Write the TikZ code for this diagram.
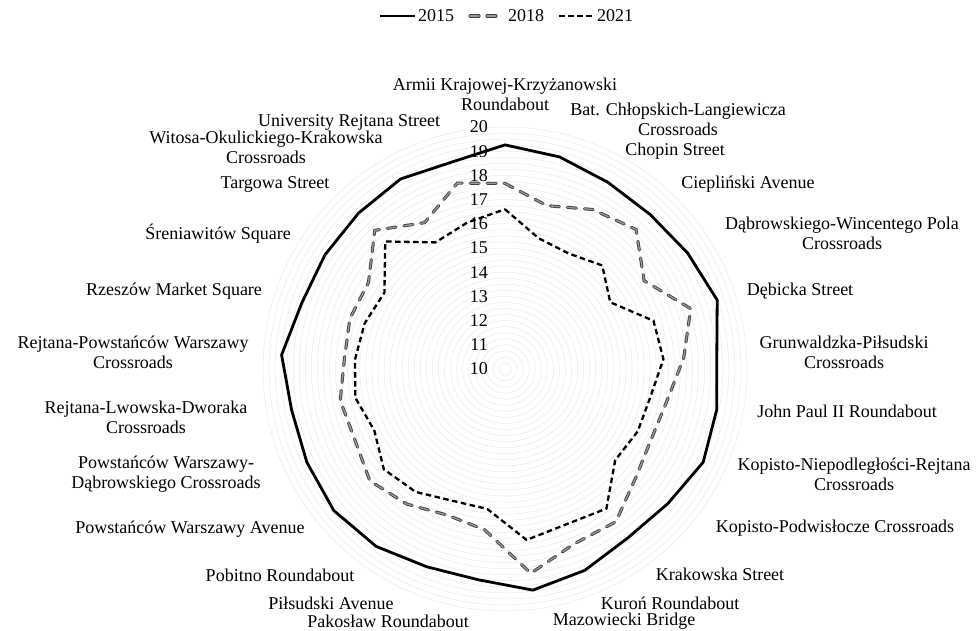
\documentclass[tikz,border=0pt]{standalone}
\usepackage{fontspec}
\setmainfont{Liberation Serif}
\usetikzlibrary{positioning}

\begin{document}
\begin{tikzpicture}[x=1pt, y=-1pt,
  lbl/.style = {align=center, font=\fontsize{18}{20}\selectfont, inner sep=0pt},
  num/.style = {anchor=east, font=\fontsize{18}{20}\selectfont, inner sep=0pt},
  ring/.style = {draw=black!9, line width=0.5pt},
  yrA/.style = {line width=2.8pt},
  yrB/.style = {draw=black!75, double=black!40, double distance=1.3pt, line width=0.9pt, dash pattern=on 9pt off 8pt, line cap=round},
  yrC/.style = {line width=2.3pt, dash pattern=on 5.5pt off 3.5pt}]
	\useasboundingbox (0,0) rectangle (977,631);

	% grid and scale
	\begin{scope}[shift={(505,369)}]
		\foreach \k in {1,...,40}
			\draw[ring] (0,0) circle ({\k*6.05});
		\foreach \n in {10,...,20}
			\node[num] (n\n) at (-17,{-(\n-10)*24.2}) {\n};

		% 2015
		\foreach \v [count=\i from 0] in {19.26,19.05,18.81,18.76,18.94,19.22,18.77,18.91,19.05,18.73,18.63,18.95,19.21,18.78,18.79,19.06,19.18,19.05,18.98,19.25,18.83,18.81,18.84,18.96,18.83}
			\coordinate (a\i) at ({-90+14.4*\i}:{(\v-10)*24.2});
		% 2018
		\foreach \v [count=\i from 0] in {17.67,16.97,17.52,17.91,16.81,18.07,17.40,16.83,16.70,17.02,17.80,17.77,18.51,16.70,16.49,16.90,17.25,16.86,16.93,16.65,16.74,16.68,17.86,16.90,17.93}
			\coordinate (b\i) at ({-90+14.4*\i}:{(\v-10)*24.2});
		% 2021
		\foreach \v [count=\i from 0] in {16.60,15.58,15.45,15.87,15.15,16.45,16.56,16.12,16.06,15.91,17.13,16.90,17.12,15.83,15.86,16.28,16.50,15.97,16.30,16.21,16.10,15.90,17.23,15.97,16.25}
			\coordinate (c\i) at ({-90+14.4*\i}:{(\v-10)*24.2});

		\draw[yrA] (a0) \foreach \i in {1,...,24} {-- (a\i)} -- cycle;
		\draw[yrB] (b0) \foreach \i in {1,...,24} {-- (b\i)} -- cycle;
		\draw[yrC] (c0) \foreach \i in {1,...,24} {-- (c\i)} -- cycle;
	\end{scope}

	% category labels
	\node[lbl] (armii) at (505,94) {Armii Krajowej-Krzyżanowski\\Roundabout};
	\node[lbl] (bat) at (678,119) {Bat. Chłopskich-Langiewicza\\Crossroads};
	\node[lbl] (chopin) at (675,151) {Chopin Street};
	\node[lbl] (cieplinski) at (748,184) {Ciepliński Avenue};
	\node[lbl] (dabrowskiego) at (842,233) {Dąbrowskiego-Wincentego Pola\\Crossroads};
	\node[lbl] (debicka) at (800,291) {Dębicka Street};
	\node[lbl] (grunwaldzka) at (844,352) {Grunwaldzka-Piłsudski\\Crossroads};
	\node[lbl] (jp2) at (847,411) {John Paul II Roundabout};
	\node[lbl] (kopistoN) at (854,474) {Kopisto-Niepodległości-Rejtana\\Crossroads};
	\node[lbl] (kopistoP) at (835,528) {Kopisto-Podwisłocze Crossroads};
	\node[lbl] (krakowska) at (720,574) {Krakowska Street};
	\node[lbl] (kuron) at (670,603) {Kuroń Roundabout};
	\node[lbl] (mazowiecki) at (624,621) {Mazowiecki Bridge};
	\node[lbl] (pakoslaw) at (388,621) {Pakosław Roundabout};
	\node[lbl] (pilsudski) at (331,603) {Piłsudski Avenue};
	\node[lbl] (pobitno) at (280,575) {Pobitno Roundabout};
	\node[lbl] (powstancowAv) at (190,529) {Powstańców Warszawy Avenue};
	\node[lbl] (powstancowDab) at (166,474) {Powstańców Warszawy-\\Dąbrowskiego Crossroads};
	\node[lbl] (lwowska) at (146,417) {Rejtana-Lwowska-Dworaka\\Crossroads};
	\node[lbl] (rejtanaPow) at (133,352) {Rejtana-Powstańców Warszawy\\Crossroads};
	\node[lbl] (rynek) at (174,291) {Rzeszów Market Square};
	\node[lbl] (sreniawitow) at (218,234) {Śreniawitów Square};
	\node[lbl] (targowa) at (275,184) {Targowa Street};
	\node[lbl] (witosa) at (266,147) {Witosa-Okulickiego-Krakowska\\Crossroads};
	\node[lbl] (university) at (349,122) {University Rejtana Street};

	% legend
	\coordinate (l1a) at (380,16); \coordinate (l1b) at (415,16);
	\coordinate (l2a) at (470,16); \coordinate (l2b) at (501,16);
	\coordinate (l3a) at (559,16); \coordinate (l3b) at (593,16);
	\draw[yrA] (l1a) -- (l1b);
	\node[lbl, right=3pt of l1b] (k2015) {2015};
	\draw[yrB] (l2a) -- (l2b);
	\node[lbl, right=7pt of l2b] (k2018) {2018};
	\draw[yrC] (l3a) -- (l3b);
	\node[lbl, right=4pt of l3b] (k2021) {2021};
\end{tikzpicture}
\end{document}
